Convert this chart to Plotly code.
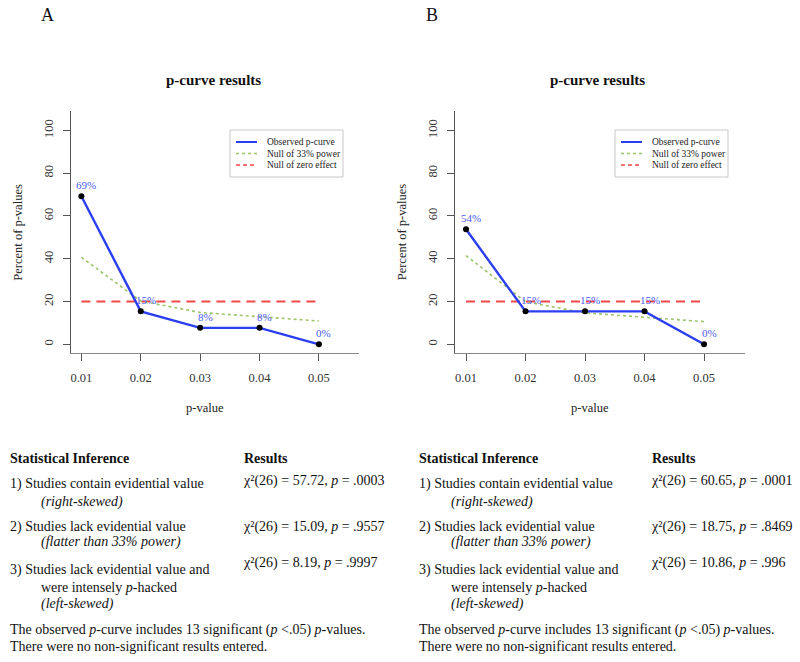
import plotly.graph_objects as go

# ---------------- data ----------------
p_values = [0.01, 0.02, 0.03, 0.04, 0.05]
p_ticktext = ["0.01", "0.02", "0.03", "0.04", "0.05"]
pct_ticks = [0, 20, 40, 60, 80, 100]

observed_A = [69.2, 15.4, 7.7, 7.7, 0.0]
null33_A = [40.7, 20.2, 14.9, 12.8, 10.9]
labels_A = ["69%", "15%", "8%", "8%", "0%"]

observed_B = [53.8, 15.4, 15.4, 15.4, 0.0]
null33_B = [41.5, 19.9, 14.7, 12.6, 10.6]
labels_B = ["54%", "15%", "15%", "15%", "0%"]

null0 = [20, 20, 20, 20, 20]

legend_names = ["Observed p-curve", "Null of 33% power", "Null of zero effect"]

results_A = ["χ²(26) = 57.72, <i>p</i> = .0003",
             "χ²(26) = 15.09, <i>p</i> = .9557",
             "χ²(26) = 8.19, <i>p</i> = .9997"]
results_B = ["χ²(26) = 60.65, <i>p</i> = .0001",
             "χ²(26) = 18.75, <i>p</i> = .8469",
             "χ²(26) = 10.86, <i>p</i> = .996"]

# ---------------- style ----------------
SERIF = "Liberation Serif, Times New Roman, serif"
BLUE = "#2b3ff0"
LABEL_BLUE = "#4a5cf2"
GREEN = "#9cc46a"
RED = "#f24848"
W, H = 800, 662


def px_x(v):
    return v / W


def px_y(v):
    return 1 - v / H


fig = go.Figure()

panels = [
    dict(obs=observed_A, n33=null33_A, labels=labels_A, xa="x", ya="y",
         left=70.7, right=359.3, letter="A", letter_x=47, text_x=8, res_x=241, indent_x=39,
         leg_x=230, results=results_A),
    dict(obs=observed_B, n33=null33_B, labels=labels_B, xa="x2", ya="y2",
         left=455.3, right=744.5, letter="B", letter_x=432, text_x=417, res_x=649, indent_x=449,
         leg_x=615, results=results_B),
]

for pn in panels:
    fig.add_trace(go.Scatter(x=p_values, y=null0, mode="lines", name=legend_names[2],
                             line=dict(color=RED, width=2, dash="9px,6px"),
                             xaxis=pn["xa"], yaxis=pn["ya"], showlegend=False,
                             hoverinfo="skip"))
    fig.add_trace(go.Scatter(x=p_values, y=pn["n33"], mode="lines", name=legend_names[1],
                             line=dict(color=GREEN, width=1.6, dash="dot"),
                             xaxis=pn["xa"], yaxis=pn["ya"], showlegend=False,
                             hoverinfo="skip"))
    fig.add_trace(go.Scatter(x=p_values, y=pn["obs"], mode="lines", name=legend_names[0],
                             line=dict(color=BLUE, width=2.4),
                             xaxis=pn["xa"], yaxis=pn["ya"], showlegend=False,
                             hoverinfo="skip"))
    fig.add_trace(go.Scatter(x=p_values, y=pn["obs"], mode="markers", showlegend=False,
                             marker=dict(color="black", size=6),
                             xaxis=pn["xa"], yaxis=pn["ya"], hoverinfo="skip"))
    for xv, yv, lab in zip(p_values, pn["obs"], pn["labels"]):
        fig.add_annotation(x=xv, y=yv, xref=pn["xa"], yref=pn["ya"], text=lab,
                           showarrow=False, xshift=5, yshift=11,
                           xanchor="center", yanchor="middle",
                           font=dict(family=SERIF, size=11, color=LABEL_BLUE))

axis_common = dict(showgrid=False, zeroline=False, showline=True, ticks="outside",
                   ticklen=7, tickwidth=1, mirror=False, automargin=False,
                   tickfont=dict(family=SERIF, size=12.5, color="#333333"))


def ann(x, y, s, size, xanchor="center", angle=0, color="#111111"):
    fig.add_annotation(x=px_x(x), y=px_y(y), xref="paper", yref="paper",
                       xanchor=xanchor, yanchor="middle", showarrow=False,
                       text=s, textangle=angle,
                       font=dict(family=SERIF, size=size, color=color))


ydom = [px_y(353.3), px_y(110.7)]
for i, pn in enumerate(panels):
    sfx = "" if i == 0 else "2"
    fig.update_layout(**{
        "xaxis" + sfx: dict(domain=[px_x(pn["left"]), px_x(pn["right"])],
                            range=[0.0082, 0.0568], anchor="y" + sfx,
                            tickvals=p_values, ticktext=p_ticktext,
                            linecolor="#8a8a8a", tickcolor="#555555",
                            ticklabelstandoff=6, **axis_common),
        "yaxis" + sfx: dict(domain=ydom, range=[-4.2, 109.2], anchor="x" + sfx,
                            tickvals=pct_ticks, tickangle=-90,
                            linecolor="#555555", tickcolor="#555555",
                            ticklabelstandoff=5, **axis_common),
    })
    cx = (pn["left"] + pn["right"]) / 2
    ann(cx - 2, 80, "<b>p-curve results</b>", 15)
    ann(cx - 10, 408, "p-value", 12.5, color="#222222")
    ann(pn["left"] - 53, 232, "Percent of p-values", 12.5, angle=-90, color="#222222")
    ann(pn["letter_x"], 15, pn["letter"], 18)

    # legend (drawn as a key box)
    lx = pn["leg_x"]
    fig.add_shape(type="rect", xref="paper", yref="paper",
                  x0=px_x(lx), x1=px_x(lx + 113), y0=px_y(177), y1=px_y(130),
                  line=dict(color="#c8c8c8", width=1), fillcolor="white", layer="above")
    key_styles = [dict(color=BLUE, width=2, dash="solid"),
                  dict(color=GREEN, width=1.3, dash="dot"),
                  dict(color=RED, width=1.5, dash="4px,3px")]
    for k, (nm, st, ry) in enumerate(zip(legend_names, key_styles, [142, 153.5, 165])):
        fig.add_shape(type="line", xref="paper", yref="paper",
                      x0=px_x(lx + 6), x1=px_x(lx + 27), y0=px_y(ry), y1=px_y(ry),
                      line=st, layer="above")
        ann(lx + 35, ry, nm, 9.5, xanchor="left", color="#222222")

    # statistical inference table
    tx, ix, rx = pn["text_x"], pn["indent_x"], pn["res_x"]
    ann(tx, 458, "<b>Statistical Inference</b>", 14, xanchor="left")
    ann(rx + 1, 458, "<b>Results</b>", 14, xanchor="left")
    ann(tx, 484, "1) Studies contain evidential value", 14, xanchor="left")
    ann(ix, 501.5, "<i>(right-skewed)</i>", 14, xanchor="left")
    ann(tx, 527, "2) Studies lack evidential value", 14, xanchor="left")
    ann(ix, 542, "<i>(flatter than 33% power)</i>", 14, xanchor="left")
    ann(tx, 570, "3) Studies lack evidential value and", 14, xanchor="left")
    ann(ix, 587, "were intensely <i>p</i>-hacked", 14, xanchor="left")
    ann(ix, 603.5, "<i>(left-skewed)</i>", 14, xanchor="left")
    ann(rx, 481, pn["results"][0], 14, xanchor="left")
    ann(rx, 527, pn["results"][1], 14, xanchor="left")
    ann(rx, 563, pn["results"][2], 14, xanchor="left")
    ann(tx, 630, "The observed <i>p</i>-curve includes 13 significant (<i>p</i> &lt;.05) <i>p</i>-values.",
        14, xanchor="left")
    ann(tx, 646, "There were no non-significant results entered.", 14, xanchor="left")

fig.update_layout(
    width=W, height=H, margin=dict(l=0, r=0, t=0, b=0),
    plot_bgcolor="white", paper_bgcolor="white", showlegend=False,
)

fig.write_html("out.html", config={"displayModeBar": False},
               post_script="document.body.style.margin='0';")
